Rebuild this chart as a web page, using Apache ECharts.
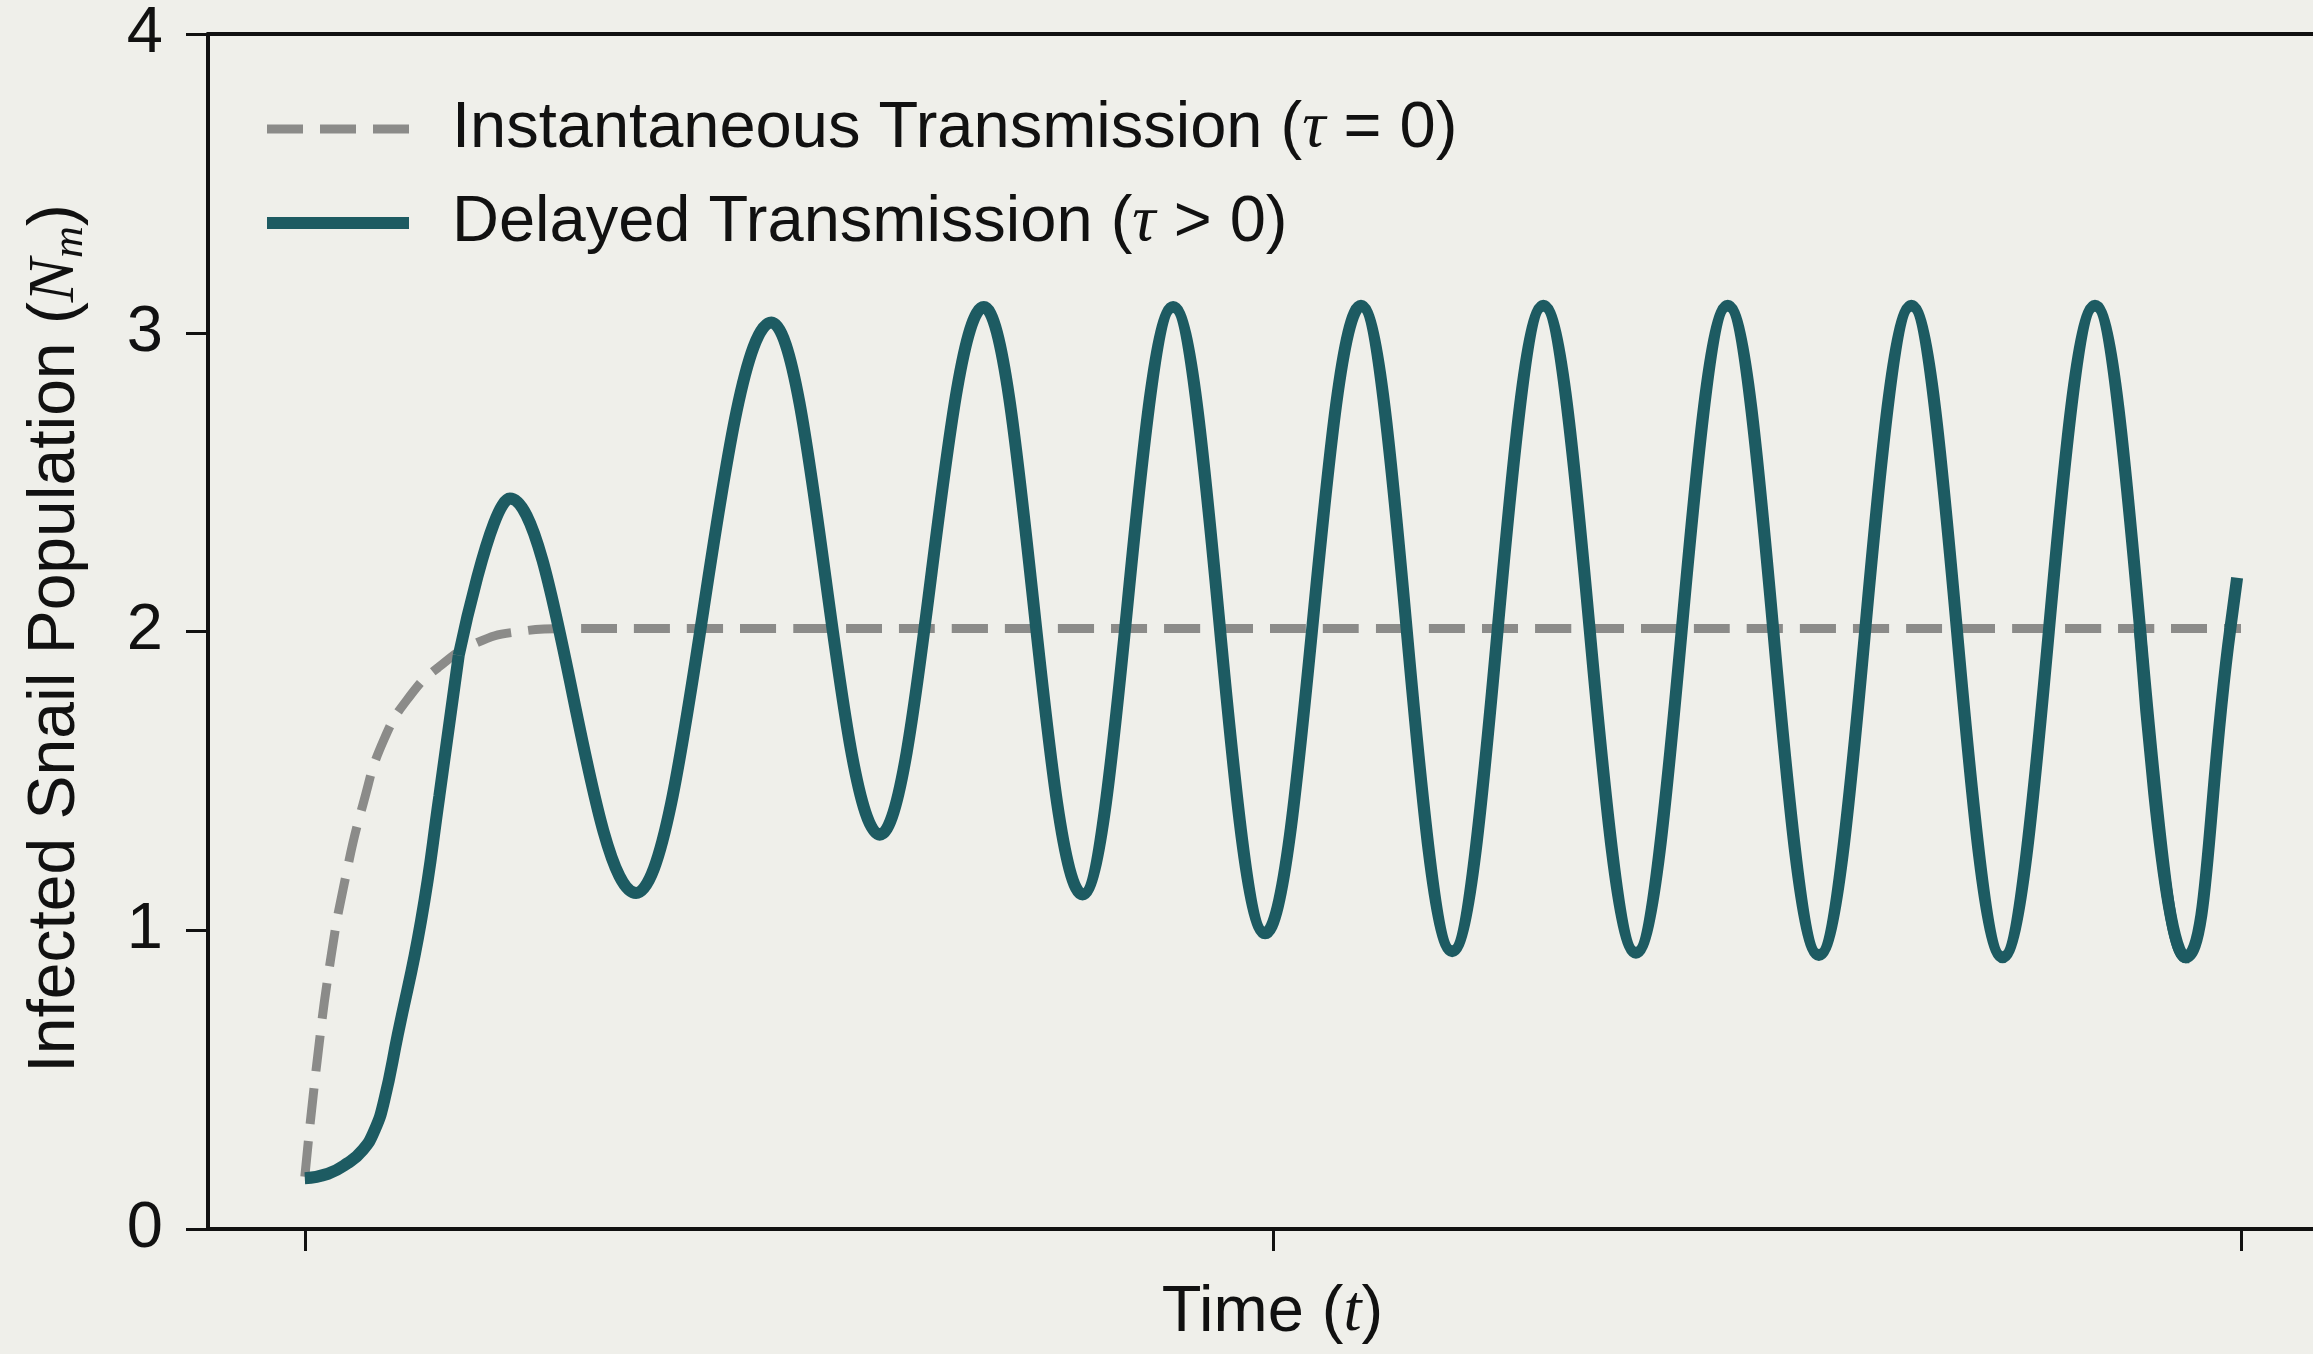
<!DOCTYPE html>
<html><head><meta charset="utf-8">
<script src="https://cdn.jsdelivr.net/npm/echarts@6/dist/echarts.min.js"></script>
<style>html,body{margin:0;padding:0;background:#efefea;} #c{width:2313px;height:1354px;}</style>
</head><body><div id="c"></div>
<script>
// Instantaneous transmission (tau = 0): time and value
const instT = [0, 0.65, 1.35, 2.05, 3.0, 4.1, 5.5, 6.9, 8.8, 11.1, 13.4, 20, 40, 60, 80, 100];
const instV = [0.175, 0.57, 0.91, 1.16, 1.42, 1.64, 1.79, 1.88, 1.96, 2.00, 2.01, 2.01, 2.01, 2.01, 2.01, 2.01];
// Delayed transmission (tau > 0) in three stretches:
// initial rise from the start
const riseT = [0, 1.2, 2.2, 3.0, 3.6, 4.1, 4.8, 6.0, 6.95, 7.95];
const riseV = [0.17, 0.185, 0.22, 0.265, 0.33, 0.43, 0.65, 1.03, 1.45, 1.92];
// peaks and troughs of the oscillation
const peakTroughT = [7.95, 10.59, 17.11, 24.1, 29.7, 35.07, 40.17, 44.85, 49.6, 54.55, 59.26, 63.97,
  68.75, 73.49, 78.2, 82.98, 87.69, 92.46, 97.14, 97.33];
const peakTroughV = [1.92, 2.445, 1.125, 3.034, 1.32, 3.086, 1.12, 3.086, 0.99, 3.09, 0.93, 3.09,
  0.925, 3.09, 0.917, 3.09, 0.91, 3.09, 0.91, 0.91];
// last swing up to the end of the run
const tailT = [94.77, 97.14, 99.45, 99.8];
const tailV = [2.01, 0.91, 2.01, 2.18];
const xTickValues = [0, 50, 100];
const yTickValues = [0, 1, 2, 3, 4];
const seriesNames = ['Instantaneous Transmission (τ = 0)', 'Delayed Transmission (τ > 0)'];

const FONT = 'Liberation Sans';
const MATH = 'Liberation Serif';
const TEAL = '#1d5b62';
const GRAY = '#8b8b89';

const chart = echarts.init(document.getElementById('c'), null, {renderer: 'canvas'});
const pair = (ts, vs) => ts.map((t, i) => [t, vs[i]]);
const axisLine = {show: true, onZero: false, lineStyle: {color: '#111', width: 4}};
const tealLine = {color: TEAL, width: 12};

chart.setOption({
  backgroundColor: '#efefea',
  animation: false,
  grid: {left: 208, right: 0, top: 34, bottom: 121, containLabel: false},
  legend: {
    orient: 'vertical', left: 261, top: 93, padding: 0,
    itemWidth: 142, itemHeight: 14, itemGap: 22,
    data: [
      {name: seriesNames[0], lineStyle: {width: 9, type: [36, 17]}, itemStyle: {opacity: 0}},
      {name: seriesNames[1], lineStyle: {width: 12}, itemStyle: {opacity: 0}}
    ],
    formatter: n => n.replace('τ', '{i|τ}'),
    textStyle: {
      fontFamily: FONT, fontSize: 65, color: '#111', lineHeight: 72, padding: [0, 0, 0, 38],
      rich: {i: {fontFamily: MATH, fontStyle: 'italic', fontSize: 65, color: '#111'}}
    }
  },
  xAxis: [{
    type: 'value', min: -5, max: 103.72, position: 'bottom',
    name: 'Time ({t|t})', nameLocation: 'middle', nameGap: 48,
    nameTextStyle: {fontFamily: FONT, fontSize: 65, color: '#111', lineHeight: 72, padding: [0, 0, 0, 24],
      rich: {t: {fontFamily: MATH, fontStyle: 'italic', fontSize: 65, color: '#111'}}},
    axisLine: axisLine,
    axisTick: {show: true, length: 22, lineStyle: {color: '#111', width: 3}, customValues: xTickValues},
    axisLabel: {show: false},
    splitLine: {show: false}
  }, {
    type: 'value', min: -5, max: 103.72, position: 'top',
    axisLine: axisLine, axisTick: {show: false}, axisLabel: {show: false}, splitLine: {show: false}
  }],
  yAxis: {
    type: 'value', min: yTickValues[0], max: yTickValues[yTickValues.length - 1], interval: 1,
    name: 'Infected Snail Population ({n|N}{s|m})', nameLocation: 'middle', nameGap: 116,
    nameTextStyle: {fontFamily: FONT, fontSize: 66, color: '#111', lineHeight: 72, padding: [0, 14, 0, 0],
      rich: {
        n: {fontFamily: MATH, fontStyle: 'italic', fontSize: 66, color: '#111', lineHeight: 72},
        s: {fontFamily: MATH, fontStyle: 'italic', fontSize: 44, color: '#111', lineHeight: 44, verticalAlign: 'bottom'}
      }},
    axisLine: axisLine,
    axisTick: {show: true, length: 22, lineStyle: {color: '#111', width: 3}},
    axisLabel: {fontFamily: FONT, fontSize: 65, color: '#111', margin: 45},
    splitLine: {show: false}
  },
  series: [
    {
      name: seriesNames[0], type: 'line', data: pair(instT, instV), smooth: 0.5,
      symbol: 'none', lineStyle: {color: GRAY, width: 9, type: [36, 17]}, itemStyle: {color: GRAY}, z: 2
    },
    {
      name: seriesNames[1], type: 'line', data: pair(riseT, riseV), smooth: 0.5,
      symbol: 'none', lineStyle: tealLine, itemStyle: {color: TEAL}, z: 3
    },
    {
      name: seriesNames[1], type: 'line', data: pair(peakTroughT, peakTroughV),
      smooth: 0.363, smoothMonotone: 'x',
      symbol: 'none', lineStyle: tealLine, itemStyle: {color: TEAL}, z: 3
    },
    {
      name: seriesNames[1], type: 'line', data: pair(tailT, tailV), smooth: 0.5,
      symbol: 'none', lineStyle: tealLine, itemStyle: {color: TEAL}, z: 3
    }
  ]
});
</script></body></html>
